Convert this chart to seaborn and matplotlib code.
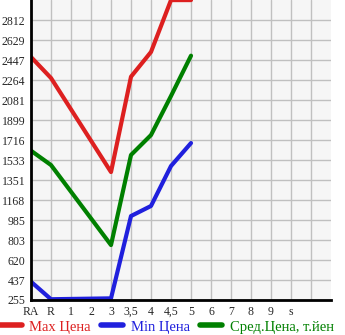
import matplotlib
matplotlib.use("Agg")
import matplotlib.pyplot as plt
import seaborn as sns
import pandas as pd
import numpy as np

categories = ["RA", "R", "1", "2", "3", "3,5", "4", "4,5", "5", "6", "7", "8", "9", "s", ""]
y_ticks = [255, 437, 620, 803, 985, 1168, 1351, 1533, 1716, 1899, 2081, 2264, 2447, 2629, 2812]

max_cats = ["RA", "R", "3", "3,5", "4", "4,5", "5"]
max_vals = [2475, 2283, 1424, 2295, 2521, 2995, 2995]
min_cats = ["RA", "R", "3", "3,5", "4", "4,5", "5"]
min_vals = [422, 262, 270, 1022, 1114, 1479, 1689]
avg_cats = ["RA", "R", "3", "3,5", "4", "4,5", "5"]
avg_vals = [1619, 1488, 757, 1580, 1762, 2119, 2487]

series_names = ["Max Цена", "Min Цена", "Сред.Цена, т.йен"]
colors = ["#dd2020", "#2020dd", "#008000"]

rows = []
for name, cats, vals in zip(series_names, [max_cats, min_cats, avg_cats], [max_vals, min_vals, avg_vals]):
    for c, v in zip(cats, vals):
        rows.append({"series": name, "x": categories.index(c), "y": v})
df = pd.DataFrame(rows)

sns.set_style("white")
plt.rcParams["font.family"] = ["Liberation Serif", "DejaVu Serif"]

fig = plt.figure(figsize=(3.45, 3.35), dpi=100)
ax = fig.add_axes([31/345, 35/335, 300/345, 300/335])
ax.set_facecolor("#f6f6f6")

sns.lineplot(data=df, x="x", y="y", hue="series", palette=colors, hue_order=series_names,
             linewidth=3.0, ax=ax, legend=False, solid_capstyle="round", solid_joinstyle="round",
             estimator=None, sort=False)

ax.set_xlim(0, 15)
ax.set_ylim(y_ticks[0], y_ticks[0] + 15 * 182.72)
ax.set_xticks(range(len(categories)))
ax.set_xticklabels(categories)
ax.set_yticks(y_ticks)
ax.set_yticklabels([str(t) for t in y_ticks])
ax.set_xlabel("")
ax.set_ylabel("")
ax.grid(True, color="#c0c0c0", linewidth=1.0)
ax.set_axisbelow(True)
for s in ["top", "right"]:
    ax.spines[s].set_visible(False)
for s in ["left", "bottom"]:
    ax.spines[s].set_color("black")
    ax.spines[s].set_linewidth(2)
ax.tick_params(axis="y", length=3, width=1, color="black", labelsize=8.5, pad=1)
ax.tick_params(axis="x", length=3, width=1, color="black", labelsize=8.5, pad=1)

from matplotlib.lines import Line2D
handles = [Line2D([], [], color=c, linewidth=4, solid_capstyle="round") for c in colors]
leg = fig.legend(handles, series_names, loc="lower left", bbox_to_anchor=(-0.005, 0.0), ncol=3,
                 frameon=False, handlelength=1.5, handletextpad=0.5, columnspacing=0.75,
                 fontsize=10.5, borderaxespad=0.0, borderpad=0.1)
for t, c in zip(leg.get_texts(), colors):
    t.set_color(c)

fig.savefig("out.png", dpi=100)
